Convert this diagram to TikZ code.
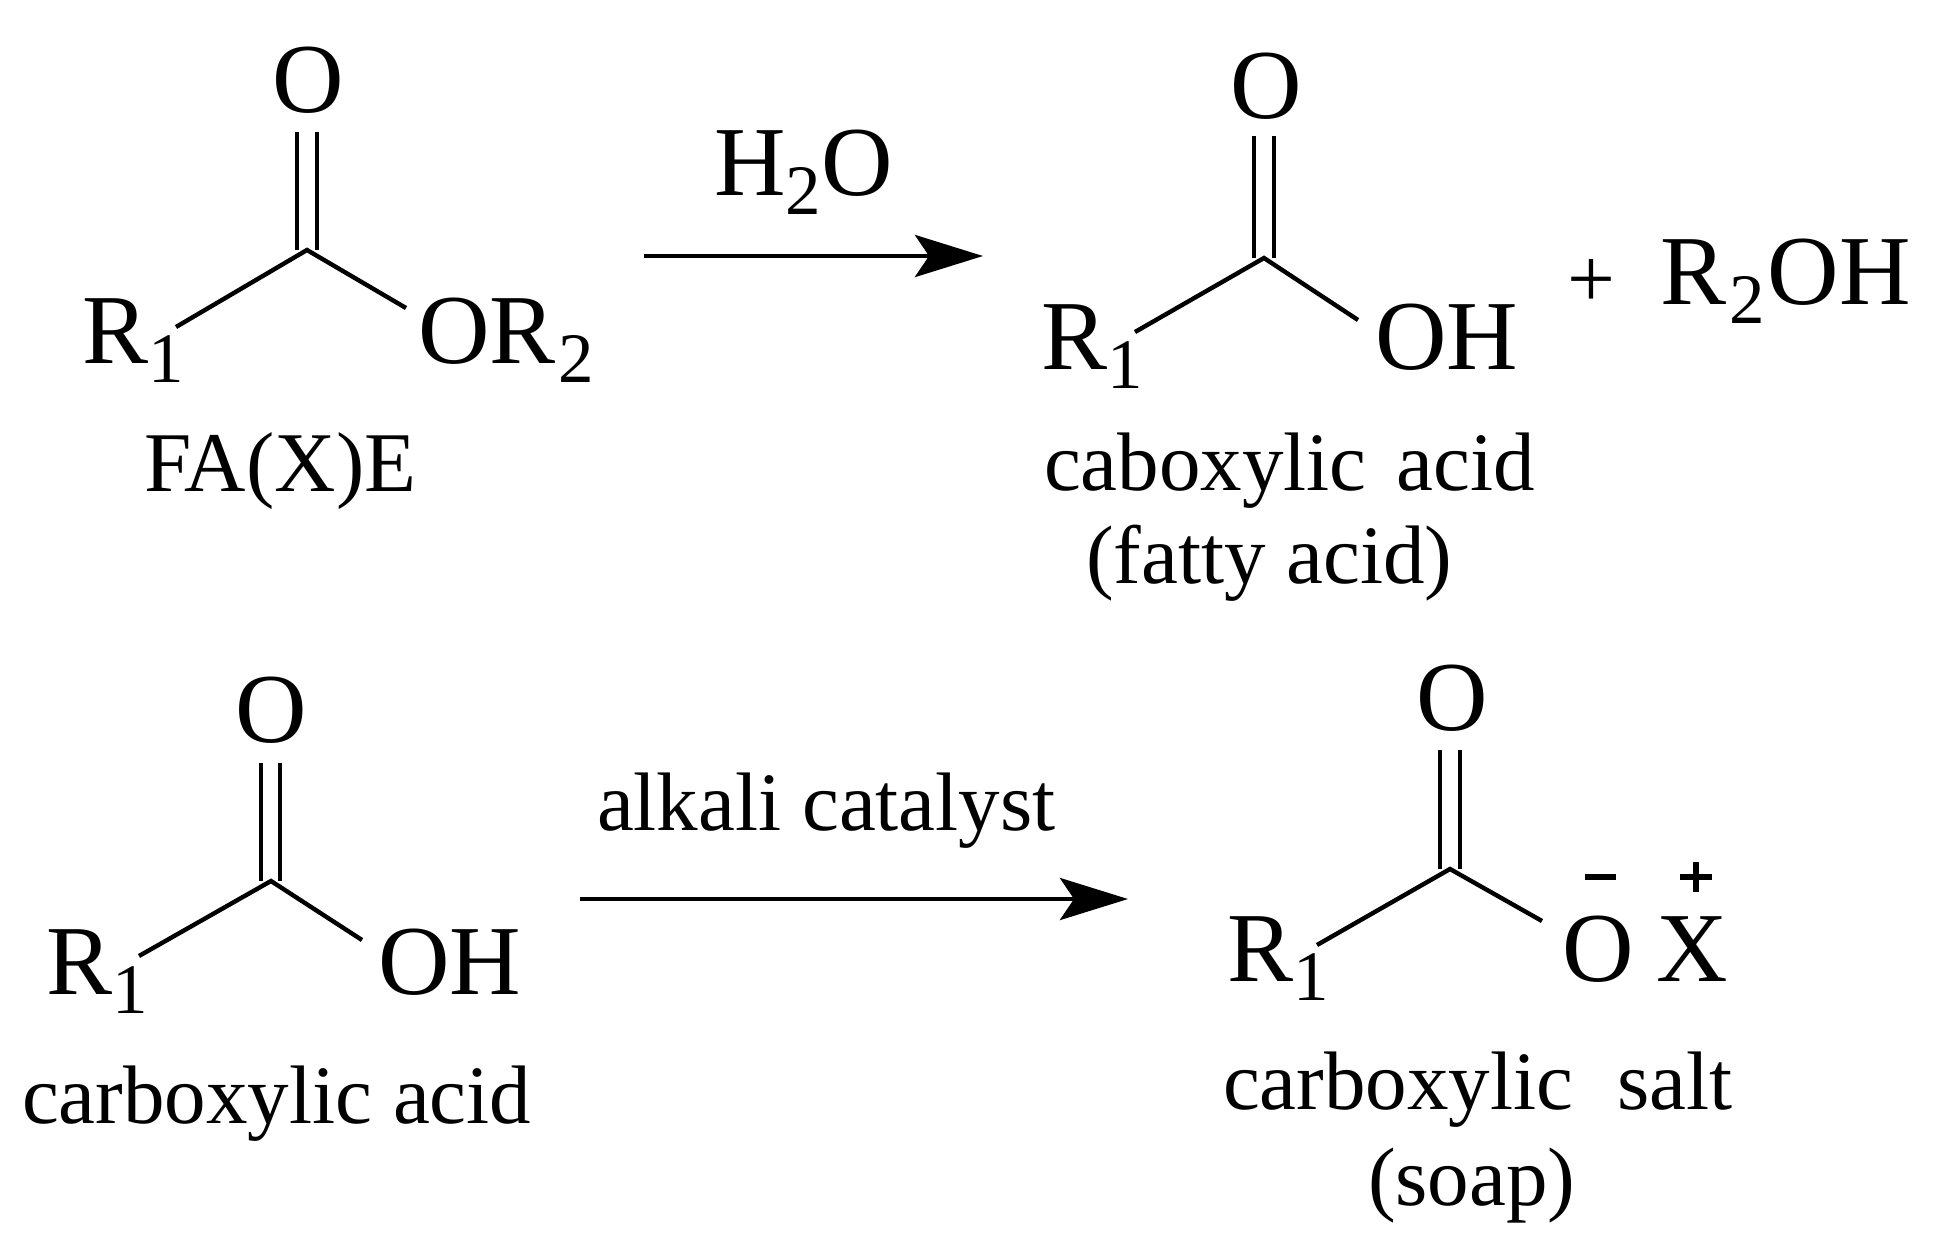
\documentclass[tikz,border=0pt]{standalone}
\usepackage{fontspec}
\setmainfont{Liberation Serif}
\usetikzlibrary{arrows.meta}
\newcommand{\subsc}[1]{\raisebox{-19pt}{\fontsize{71}{71}\selectfont #1}}
\tikzset{
  lbl/.style={inner sep=0pt,outer sep=0pt,anchor=base west,font=\fontsize{99}{99}\selectfont},
  ctr/.style={lbl,anchor=base},
  captxt/.style={lbl,font=\fontsize{83}{83}\selectfont},
  bond/.style={line width=4.4pt,line cap=butt},
  dbond/.style={line width=3.6pt},
  rxn/.style={line width=4.8pt,-{Stealth[length=68pt,width=42pt,inset=14pt]}},
  chg/.style={line width=5.5pt}
}
\begin{document}
\begin{tikzpicture}[x=1pt,y=-1pt]
\useasboundingbox (0,0) rectangle (1935,1259);
% ---- top left
\node[ctr] (o1) at (308,112) {O};
\node[lbl] (r1) at (82,363) {R\subsc{1}};
\node[lbl] (or2) at (418,363) {OR\hspace{3pt}\subsc{2}};
\node[captxt,font=\fontsize{85}{85}\selectfont] (fa) at (144,491) {FA(X)E};
\coordinate (c1) at (307,250);
\coordinate (c1a) at (297,250); \coordinate (c1b) at (317,250);
\coordinate (o1a) at (297,132); \coordinate (o1b) at (317,132);
\coordinate (e1l) at (176,327); \coordinate (e1r) at (406,308);
\draw[dbond] (c1a) -- (o1a); \draw[dbond] (c1b) -- (o1b);
\draw[bond] (e1l) -- (c1) -- (e1r);
% ---- arrow 1
\node[lbl] (h2o) at (714,195) {H\subsc{2}O};
\coordinate (a1s) at (644,256); \coordinate (a1e) at (983,256);
\draw[rxn] (a1s) -- (a1e);
% ---- top right
\node[ctr] (o2) at (1266,118) {O};
\node[lbl] (r2) at (1041,369) {R\subsc{1}};
\node[lbl] (oh1) at (1375,369) {OH};
\node[anchor=center,inner sep=0pt,font=\fontsize{85}{85}\selectfont] (plus) at (1591,283) {+};
\node[lbl] (roh) at (1660,304) {R\hspace{3pt}\subsc{2}\hspace{3pt}OH};
\node[captxt] (cab) at (1044,490) {caboxylic\hspace{9pt} acid};
\node[captxt] (fat) at (1086,583) {(fatty acid)};
\coordinate (c2) at (1264,258);
\coordinate (c2a) at (1254,258); \coordinate (c2b) at (1274,258);
\coordinate (o2a) at (1254,136); \coordinate (o2b) at (1274,136);
\coordinate (e2l) at (1135,332); \coordinate (e2r) at (1358,320);
\draw[dbond] (c2a) -- (o2a); \draw[dbond] (c2b) -- (o2b);
\draw[bond] (e2l) -- (c2) -- (e2r);
% ---- bottom left
\node[ctr] (o3) at (271.5,742) {O};
\node[lbl] (r3) at (46,994) {R\subsc{1}};
\node[lbl] (oh2) at (378,994) {OH};
\node[captxt] (cba) at (22,1123) {carboxylic acid};
\coordinate (c3) at (271,881);
\coordinate (c3a) at (261,881); \coordinate (c3b) at (280,881);
\coordinate (o3a) at (261,763); \coordinate (o3b) at (280,763);
\coordinate (e3l) at (139,956); \coordinate (e3r) at (362,940);
\draw[dbond] (c3a) -- (o3a); \draw[dbond] (c3b) -- (o3b);
\draw[bond] (e3l) -- (c3) -- (e3r);
% ---- arrow 2
\node[captxt] (alk) at (597,830) {alkali catalyst};
\coordinate (a2s) at (580,899); \coordinate (a2e) at (1128,899);
\draw[rxn] (a2s) -- (a2e);
% ---- bottom right
\node[ctr] (o4) at (1452,730) {O};
\node[lbl] (r4) at (1227,981) {R\subsc{1}};
\node[lbl] (om) at (1562,981) {O};
\node[lbl] (xp) at (1656,981) {X};
\node[captxt] (cbs) at (1223,1109) {carboxylic\hspace{23pt} salt};
\node[captxt] (soap) at (1368,1205) {(soap)};
\coordinate (c4) at (1450,869);
\coordinate (c4a) at (1440,869); \coordinate (c4b) at (1460,869);
\coordinate (o4a) at (1440,750); \coordinate (o4b) at (1460,750);
\coordinate (e4l) at (1317,945); \coordinate (e4r) at (1542,921);
\draw[dbond] (c4a) -- (o4a); \draw[dbond] (c4b) -- (o4b);
\draw[bond] (e4l) -- (c4) -- (e4r);
\coordinate (m1) at (1585,877); \coordinate (m2) at (1616,877);
\draw[chg] (m1) -- (m2);
\coordinate (p1) at (1680,877); \coordinate (p2) at (1712,877);
\coordinate (p3) at (1696,862); \coordinate (p4) at (1696,892);
\draw[chg] (p1) -- (p2); \draw[chg] (p3) -- (p4);
\end{tikzpicture}
\end{document}
